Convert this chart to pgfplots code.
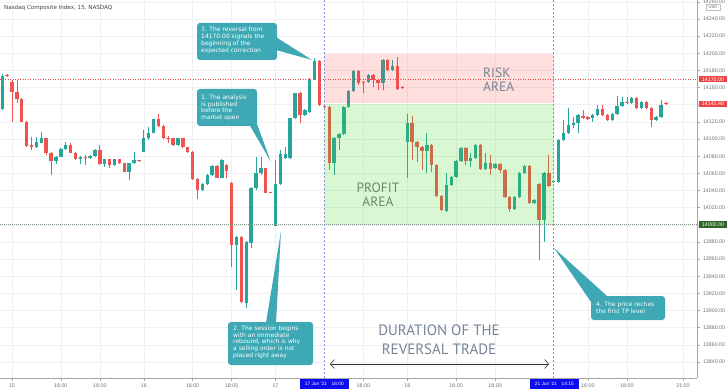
\documentclass[border=0pt]{standalone}
\usepackage{pgfplots}
\pgfplotsset{compat=1.18}
\usepackage{pgfplotstable}
\usepackage{fontspec}
\setmainfont{DejaVu Sans}
\newfontfamily\ptsans{PT Sans}
\newfontfamily\libsans{Liberation Sans}
\usetikzlibrary{arrows.meta}
\definecolor{upc}{RGB}{38,166,154}
\definecolor{dnc}{RGB}{239,83,80}
\definecolor{gridc}{RGB}{238,240,245}
\definecolor{callc}{RGB}{62,168,180}
\definecolor{riskc}{RGB}{255,60,60}
\definecolor{profc}{RGB}{70,215,40}
\definecolor{labc}{RGB}{110,112,122}
\definecolor{redlab}{RGB}{240,68,68}
\definecolor{greenlab}{RGB}{46,100,40}
\definecolor{bluelab}{RGB}{12,12,238}
\definecolor{vlinec}{RGB}{140,140,220}
\definecolor{txtc}{RGB}{118,132,148}
\definecolor{proftxt}{RGB}{104,138,106}
\definecolor{l14000}{RGB}{130,150,130}

\pgfplotstableread{
x o h l c
-2 14134.7 14175.3 14133.9 14174.1
5 14090.4 14102.7 14089.6 14096.9
6 14095.7 14108.6 14095.0 14100.9
9 14074.8 14080.2 14070.9 14079.4
10 14079.4 14089.0 14078.5 14088.0
11 14088.0 14096.9 14087.2 14093.1
14 14076.4 14080.2 14070.9 14079.4
16 14077.5 14081.4 14076.7 14080.2
17 14080.2 14088.4 14079.1 14087.2
19 14070.6 14077.3 14067.8 14076.4
21 14069.7 14077.3 14068.6 14076.4
24 14061.9 14072.6 14052.3 14071.7
25 14071.7 14085.3 14070.9 14075.6
27 14085.3 14110.6 14084.9 14100.9
28 14100.9 14114.4 14098.9 14107.4
29 14107.4 14123.9 14106.5 14123.0
34 14093.1 14101.8 14091.9 14100.9
39 14040.6 14048.2 14039.4 14047.2
40 14047.2 14059.2 14046.4 14058.1
41 14058.1 14069.7 14056.9 14068.6
43 14054.9 14076.2 14054.0 14075.6
46 13976.5 13986.9 13924.0 13986.1
48 13908.5 13981.1 13902.6 13980.3
49 13978.4 14044.4 13972.6 14042.6
50 14042.6 14079.4 14040.6 14060.1
51 14060.1 14079.4 14058.1 14066.6
54 13998.9 14075.6 13998.6 14047.6
55 14047.6 14087.2 14046.4 14082.2
56 14077.5 14091.1 14076.7 14082.2
57 14077.5 14125.1 14076.7 14124.2
58 14124.2 14153.7 14123.4 14153.4
60 14128.0 14135.0 14126.9 14133.9
61 14131.9 14171.2 14130.4 14169.7
62 14170.0 14194.5 14168.9 14191.0
66 14072.1 14102.4 14058.1 14101.2
67 14101.2 14107.1 14087.2 14105.9
68 14105.9 14138.5 14104.7 14137.4
69 14137.4 14157.2 14136.2 14156.0
70 14156.0 14180.5 14154.9 14179.4
73 14166.5 14175.8 14165.4 14174.7
76 14165.4 14193.4 14157.2 14192.2
78 14180.5 14192.2 14179.4 14185.2
81 14096.6 14129.2 14054.6 14118.7
85 14086.1 14107.1 14060.4 14093.1
89 14016.1 14060.4 14014.9 14046.4
90 14046.4 14056.9 14045.3 14055.7
91 14055.7 14075.6 14054.6 14074.4
92 14074.4 14090.7 14073.2 14089.6
94 14074.4 14083.7 14067.4 14077.9
95 14077.9 14094.2 14076.7 14093.1
97 14065.1 14083.7 14063.9 14072.1
99 14066.2 14072.1 14065.1 14070.9
103 14018.4 14033.6 14017.3 14032.4
104 14032.4 14061.6 14031.2 14060.4
105 14060.4 14069.7 14059.2 14068.6
107 14025.4 14030.1 14024.3 14028.9
109 14005.6 14061.6 13980.0 14060.4
111 14049.9 14052.3 14048.8 14051.1
112 14049.9 14100.1 14048.8 14098.9
113 14098.9 14122.2 14097.7 14107.1
114 14107.1 14136.2 14105.9 14116.4
115 14116.4 14125.7 14112.9 14118.7
116 14118.7 14129.2 14107.1 14128.0
119 14124.6 14129.2 14119.9 14128.0
120 14128.0 14139.7 14126.9 14135.0
123 14122.2 14130.4 14121.0 14129.2
124 14129.2 14150.2 14128.0 14138.5
125 14138.5 14149.0 14137.4 14143.2
127 14142.0 14149.0 14140.9 14147.9
129 14136.2 14144.4 14135.0 14143.2
132 14122.2 14126.9 14121.0 14125.7
133 14125.7 14145.5 14124.6 14139.7
}\upT

\pgfplotstableread{
x o h l c
-1 14174.7 14175.3 14172.4 14173.5
0 14166.9 14168.9 14120.2 14155.2
1 14155.2 14168.9 14142.0 14146.4
2 14146.4 14147.3 14119.3 14120.2
3 14120.2 14121.0 14090.7 14091.9
4 14092.5 14102.7 14087.2 14091.3
7 14100.9 14101.8 14081.4 14084.1
8 14084.1 14084.9 14058.1 14074.8
12 14093.1 14095.7 14083.2 14084.1
13 14084.1 14084.9 14075.6 14076.4
15 14078.8 14081.4 14069.7 14077.7
18 14087.2 14093.1 14069.7 14070.6
20 14076.4 14077.3 14065.9 14069.7
22 14076.4 14077.3 14070.9 14071.7
23 14071.7 14072.6 14061.0 14061.9
26 14075.3 14076.1 14073.3 14074.2
30 14123.0 14129.2 14114.6 14115.6
31 14115.6 14116.4 14100.1 14100.9
32 14101.2 14103.6 14095.0 14100.1
33 14100.9 14101.8 14091.9 14093.1
35 14100.9 14101.8 14089.6 14090.4
36 14090.4 14091.3 14084.3 14085.3
37 14085.3 14086.1 14052.3 14053.4
38 14053.4 14054.6 14029.7 14040.6
42 14068.6 14069.7 14054.0 14054.9
44 14069.7 14070.9 14054.2 14062.7
45 14049.1 14049.9 13951.1 13976.5
47 13986.1 13986.9 13908.8 13910.3
52 14065.9 14066.8 14036.5 14037.4
53 14038.3 14038.8 14036.5 14037.1
59 14153.4 14154.3 14118.4 14128.0
63 14191.0 14192.2 14138.5 14139.7
64 14139.1 14139.7 14136.2 14137.6
65 14137.4 14138.5 14063.9 14072.1
71 14179.4 14180.5 14163.0 14165.4
72 14166.5 14167.7 14153.7 14165.4
74 14174.7 14175.8 14160.7 14168.9
75 14168.9 14170.0 14157.2 14165.4
77 14192.2 14193.4 14179.4 14180.5
79 14185.2 14195.7 14157.2 14158.4
80 14160.7 14161.9 14158.4 14159.6
82 14118.7 14126.9 14075.6 14096.6
83 14096.6 14097.7 14073.2 14090.7
84 14090.7 14091.9 14063.9 14086.1
86 14093.1 14094.2 14061.6 14069.7
87 14069.7 14070.9 14032.4 14033.6
88 14033.6 14034.8 14016.1 14017.3
93 14089.6 14090.7 14069.7 14074.4
96 14093.1 14094.2 14063.9 14065.1
98 14072.1 14081.4 14058.1 14065.1
100 14070.9 14072.1 14060.4 14063.9
101 14063.9 14065.1 14031.2 14032.4
102 14032.4 14033.6 14014.9 14018.4
106 14068.6 14069.7 14024.3 14025.4
108 14047.6 14048.8 13959.0 14005.6
110 14060.4 14081.4 14044.1 14045.3
117 14126.9 14133.9 14123.4 14124.6
118 14125.7 14126.9 14122.2 14123.4
121 14135.0 14139.7 14126.9 14128.0
122 14128.0 14129.2 14121.0 14122.2
126 14143.2 14149.0 14140.9 14142.0
128 14147.9 14149.0 14135.0 14136.2
130 14143.2 14144.4 14135.0 14136.2
131 14136.2 14137.4 14114.1 14122.2
134 14142.5 14143.2 14139.7 14141.5
}\dnT

\newcommand{\callfont}{\fontsize{6}{6.8}\selectfont}
\newcommand{\tickfont}{\libsans\fontsize{5.3}{6}\selectfont}

\begin{document}
\begin{tikzpicture}[x=1pt,y=1pt]
\useasboundingbox (0,-13) rectangle (728,378);
\begin{axis}[
  at={(0,0)}, anchor=south west,
  scale only axis, width=697pt, height=378pt,
  xmin=-2.459, xmax=140.37, ymin=13821.34, ymax=14262.16,
  axis x line*=bottom, axis y line*=right,
  axis line style={draw=black!35, line width=0.5pt},
  grid=major, major grid style={draw=gridc, line width=0.5pt},
  scaled y ticks=false, scaled x ticks=false,
  ytick={13840,13860,...,14260},
  yticklabels={13840.00,13860.00,13880.00,13900.00,13920.00,13940.00,13960.00,13980.00,{},14020.00,14040.00,14060.00,14080.00,14100.00,14120.00,{},14160.00,14180.00,14200.00,14220.00,14240.00,14260.00},
  yticklabel pos=right,
  yticklabel style={font=\tickfont, text=labc},
  xtick={0,10,18,27,37,45,54,72,81,91,99,118,126,137.5},
  xticklabels={15,16:00,18:00,16,16:00,18:00,17,18:00,18,16:00,18:00,16:00,18:00,21:00},
  xticklabel style={font=\tickfont, text=labc},
  tick align=outside, major tick length=2.5pt,
  tick style={draw=black!35, line width=0.4pt},
]
% wicks and bodies
\addplot[draw=upc, line width=0.7pt, quiver={u=0, v=\thisrow{h}-\thisrow{l}}] table[x=x,y=l]{\upT};
\addplot[draw=upc, line width=3.4pt, quiver={u=0, v=\thisrow{c}-\thisrow{o}}] table[x=x,y=o]{\upT};
\addplot[draw=dnc, line width=0.7pt, quiver={u=0, v=\thisrow{h}-\thisrow{l}}] table[x=x,y=l]{\dnT};
\addplot[draw=dnc, line width=3.4pt, quiver={u=0, v=\thisrow{c}-\thisrow{o}}] table[x=x,y=o]{\dnT};
% areas
\fill[riskc, fill opacity=0.17] (axis cs:64,14142.5) rectangle (axis cs:111,14199.5);
\fill[profc, fill opacity=0.2] (axis cs:64,14000) rectangle (axis cs:111,14140.3);
% level lines
\draw[redlab, line width=0.6pt, dash pattern=on 1pt off 1.5pt] (axis cs:-2.459,14170) -- (axis cs:140.37,14170);
\draw[l14000, line width=0.6pt, dash pattern=on 1pt off 1pt] (axis cs:-2.459,14000) -- (axis cs:140.37,14000);
\draw[vlinec, line width=0.5pt, dash pattern=on 2pt off 2pt] (axis cs:64,13821.34) -- (axis cs:64,14262.16);
\draw[vlinec, line width=0.5pt, dash pattern=on 2pt off 2pt] (axis cs:111,13821.34) -- (axis cs:111,14262.16);
\end{axis}

\begin{scope}[x=1pt,y=-1pt,shift={(0pt,378pt)}]
% title
\node[anchor=west, inner sep=0, font=\fontsize{5.6}{6}\selectfont, text=black!75] at (4,7.5) {Nasdaq Composite Index, 15, NASDAQ};
% big texts
\node[anchor=west, align=left, inner sep=0, font=\ptsans\fontsize{13.5}{14}\selectfont, text=txtc] at (483,80) {RISK\\AREA};
\node[align=center, inner sep=0, font=\ptsans\fontsize{13.5}{14}\selectfont, text=proftxt] at (378,195) {PROFIT\\AREA};
\node[align=center, inner sep=0, font=\ptsans\fontsize{15}{19}\selectfont, text=txtc] at (439,340) {DURATION OF THE\\REVERSAL TRADE};
\draw[{Straight Barb[length=4pt,width=9pt]}-{Straight Barb[length=4pt,width=9pt]}, line width=0.6pt, black!80] (330,364) -- (549,364);
% callout 1
\fill[callc] (249,124) -- (257,124) -- (271,162) -- cycle;
\fill[callc, rounded corners=3pt] (197,89) rectangle (257,126);
\node[anchor=north west, align=left, inner sep=0, text=white, font=\callfont] at (201,94.5) {1. The analysis\\is published\\before the\\market open};
% callout 2
\fill[callc] (266,323) -- (276,323) -- (281,231) -- cycle;
\fill[callc, rounded corners=3pt] (228,322) rectangle (313,365);
\node[anchor=north west, align=left, inner sep=0, text=white, font=\callfont] at (233,325.5) {2. The session begins\\with an immediate\\rebound, which is why\\a selling order is not\\placed right away};
% callout 3
\fill[callc] (268,32) -- (276,50) -- (312,60) -- cycle;
\fill[callc, rounded corners=3pt] (197,23) rectangle (277,60);
\node[anchor=north west, align=left, inner sep=0, text=white, font=\fontsize{6}{7.2}\selectfont] at (201,26.5) {3. The reversal from\\14170.00 signals the\\beginning of the\\expected correction};
% callout 4
\fill[callc] (554,248) -- (591,302) -- (607,296) -- cycle;
\fill[callc, rounded corners=3pt] (591,296) rectangle (665,320);
\node[anchor=north west, align=left, inner sep=0, text=white, font=\callfont] at (596,301.5) {4. The price reches\\the first TP level};
% right price boxes
\fill[redlab] (699,76) rectangle (727,82.5);
\node[text=white, inner sep=0, font=\tickfont] at (713,79.3) {14170.00};
\fill[redlab] (699,100.7) rectangle (727,107.3);
\node[text=white, inner sep=0, font=\tickfont] at (713,104) {14141.48};
\fill[greenlab] (699,221.3) rectangle (727,227.8);
\node[text=white, inner sep=0, font=\tickfont] at (713,224.6) {14000.00};
\draw[black!25, fill=white, line width=0.3pt] (706,4) rectangle (720,10.5);
\node[text=labc, inner sep=0, font=\libsans\fontsize{4.2}{5}\selectfont] at (713,7.3) {USD};
% bottom date boxes
\fill[bluelab] (300,379) rectangle (348.5,388.5);
\node[text=white, inner sep=0, font=\libsans\fontsize{4.8}{5}\selectfont] at (324.3,383.8) {17 Jun '21\quad 16:00};
\fill[bluelab] (530,379) rectangle (578.5,388.5);
\node[text=white, inner sep=0, font=\libsans\fontsize{4.8}{5}\selectfont] at (554.3,383.8) {21 Jun '21\quad 14:15};
\end{scope}
\end{tikzpicture}
\end{document}
